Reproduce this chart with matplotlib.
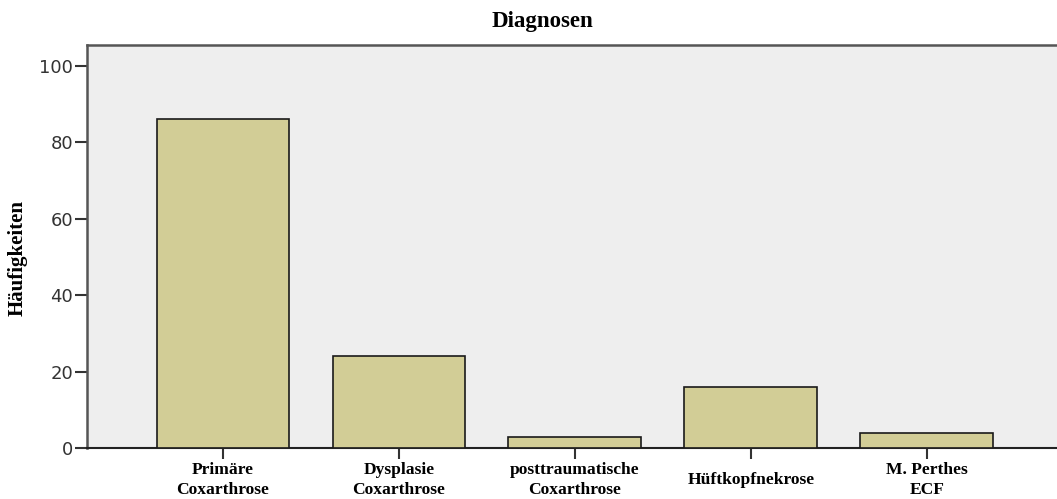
import matplotlib
matplotlib.use("Agg")
import matplotlib.pyplot as plt
from matplotlib.transforms import blended_transform_factory

categories = ["Primäre\nCoxarthrose", "Dysplasie\nCoxarthrose", "posttraumatische\nCoxarthrose",
              "Hüftkopfnekrose", "M. Perthes\nECF"]
values = [86, 24, 3, 16, 4]
yticks = [0, 20, 40, 60, 80, 100]

fig = plt.figure(figsize=(10.57, 4.99), dpi=100)
ax = fig.add_axes([87/1057, 51/499, 1 - 87/1057, (448-45)/499])
ax.set_facecolor("#EEEEEE")

x = list(range(len(categories)))
ax.bar(x, values, width=0.755, color="#D2CD96", edgecolor="#1a1a1a", linewidth=1.2, zorder=3)

ax.set_xlim(-0.773, 4.74)
ax.set_ylim(0, 105.5)
ax.set_yticks(yticks)
ax.set_yticklabels([str(v) for v in yticks], fontsize=13, color="#333333", family="DejaVu Sans")
ax.tick_params(axis="y", length=9, width=1.5, color="#333333", pad=1)
ax.set_xticks(x)
ax.set_xticklabels([])
ax.tick_params(axis="x", length=8, width=1.5, color="#333333")

trans = blended_transform_factory(ax.transData, fig.transFigure)
for xi, lab in zip(x, categories):
    ax.text(xi, 1 - 480/499, lab, transform=trans, ha="center", va="center",
            fontsize=12.6, fontweight="bold", family="Liberation Serif", linespacing=1.34)

for s in ["left", "top"]:
    ax.spines[s].set_color("#555555")
    ax.spines[s].set_linewidth(1.8)
ax.spines["bottom"].set_color("#222222")
ax.spines["bottom"].set_linewidth(1.5)
ax.spines["right"].set_visible(False)

fig.text(542/1057, 1 - 22/499, "Diagnosen", ha="center", va="center",
         fontsize=16.5, fontweight="bold", family="Liberation Serif")
fig.text(18/1057, 1 - 258/499, "Häufigkeiten", ha="center", va="center", rotation=90,
         fontsize=15, fontweight="bold", family="Liberation Serif")

fig.savefig("out.png", dpi=100)
